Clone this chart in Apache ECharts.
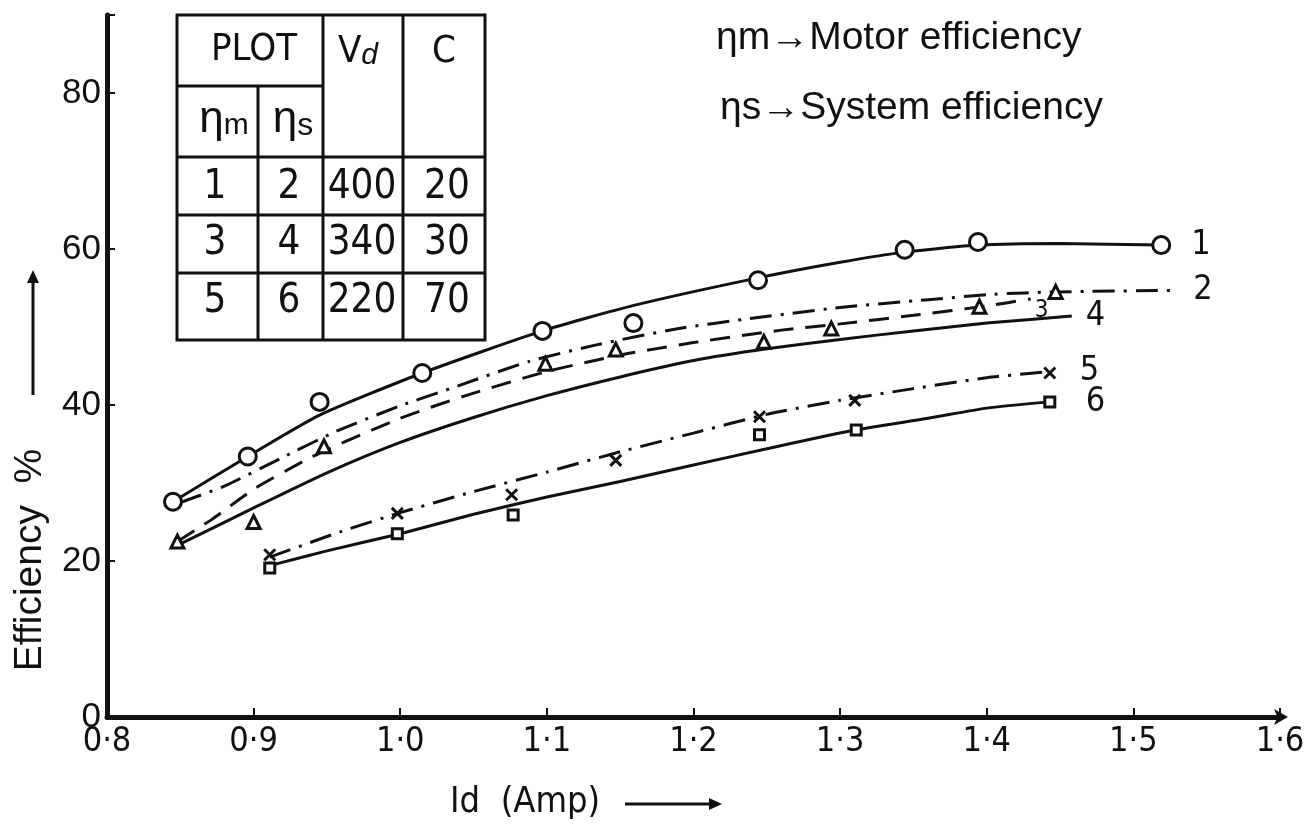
<!DOCTYPE html>
<html>
<head>
<meta charset="utf-8">
<script src="https://cdn.jsdelivr.net/npm/echarts@6/dist/echarts.min.js"></script>
<style>
  html, body { margin: 0; padding: 0; background: #fff; }
  #chart { width: 1309px; height: 831px; }
</style>
</head>
<body>
<div id="chart"></div>
<script>
// Axis ticks
const xTicks = [0.8, 0.9, 1.0, 1.1, 1.2, 1.3, 1.4, 1.5, 1.6];
const yTicks = [0, 20, 40, 60, 80];

// Fitted curves: [Id (A), efficiency %]
const curve1 = [[0.845, 27.6], [0.896, 33.4], [0.945, 38.7], [1.015, 44.1], [1.097, 49.5], [1.16, 52.8], [1.244, 56.3], [1.3, 58.3], [1.344, 59.6], [1.394, 60.5], [1.45, 60.7], [1.519, 60.5]];
const curve2 = [[0.85, 27.5], [0.88, 29.6], [0.92, 33.3], [0.956, 36.6], [1.0, 39.9], [1.034, 42.1], [1.088, 45.6], [1.136, 47.8], [1.19, 49.8], [1.235, 51.0], [1.3, 52.5], [1.36, 53.5], [1.405, 54.2], [1.447, 54.5], [1.53, 54.7]];
const curve3 = [[0.848, 22.5], [0.872, 25.4], [0.9, 29.2], [0.935, 32.9], [0.948, 34.1], [1.0, 38.3], [1.043, 41.1], [1.1, 44.3], [1.15, 46.4], [1.2, 48.0], [1.26, 49.6], [1.3, 50.4], [1.35, 51.5], [1.4, 52.7], [1.43, 53.6]];
const curve4 = [[0.848, 22.0], [0.9, 26.8], [0.95, 31.3], [1.0, 35.2], [1.05, 38.4], [1.1, 41.2], [1.15, 43.6], [1.2, 45.7], [1.25, 47.2], [1.3, 48.4], [1.35, 49.5], [1.4, 50.5], [1.458, 51.4]];
const curve5 = [[0.911, 20.5], [0.96, 23.8], [1.0, 26.2], [1.05, 28.9], [1.1, 31.4], [1.15, 34.0], [1.2, 36.4], [1.25, 38.8], [1.3, 40.6], [1.35, 42.1], [1.4, 43.5], [1.443, 44.3]];
const curve6 = [[0.913, 19.5], [0.95, 21.3], [1.0, 23.5], [1.05, 26.0], [1.1, 28.2], [1.15, 30.2], [1.2, 32.3], [1.25, 34.4], [1.31, 36.8], [1.36, 38.3], [1.4, 39.6], [1.443, 40.4]];

// Measured points
const circlePts = [[0.845, 27.6], [0.896, 33.4], [0.945, 40.4], [1.015, 44.1], [1.097, 49.5], [1.159, 50.5], [1.244, 56.0], [1.344, 59.9], [1.394, 60.9], [1.519, 60.5]];
const trianglePts = [[0.848, 22.5], [0.9, 25.0], [0.948, 34.7], [1.099, 45.3], [1.147, 47.1], [1.248, 48.1], [1.294, 49.8], [1.395, 52.6], [1.447, 54.5]];
const crossPts = [[0.911, 20.8], [0.998, 26.1], [1.076, 28.5], [1.147, 32.9], [1.245, 38.5], [1.31, 40.6], [1.443, 44.1]];
const squarePts = [[0.911, 19.1], [0.998, 23.5], [1.077, 25.9], [1.245, 36.2], [1.311, 36.8], [1.443, 40.4]];

// Legend table rows: [eta_m plot, eta_s plot, Vd, C]
const tableRows = [['1', '2', '400', '20'], ['3', '4', '340', '30'], ['5', '6', '220', '70']];

const INK = '#111';
const NARROW = '"Liberation Sans Narrow", "DejaVu Sans Condensed", sans-serif';
const SANS = '"Liberation Sans", "DejaVu Sans", sans-serif';

const DASH_DOT = [22, 9, 3, 9];
const DASHED = [20, 12];

function curveSeries(data, label, type, labelOpts) {
  return {
    type: 'line', data: data, smooth: 0.2, showSymbol: false, silent: true,
    lineStyle: { color: INK, width: 3, type: type },
    endLabel: Object.assign({
      show: true, formatter: label, color: INK, fontFamily: NARROW, fontSize: 34, distance: 22
    }, labelOpts || {})
  };
}
function markerSeries(data, symbol, size) {
  return {
    type: 'scatter', data: data, symbol: symbol, symbolSize: size, silent: true, z: 5,
    itemStyle: { color: '#fff', borderColor: INK, borderWidth: 3, opacity: 1 }
  };
}

// Table graphics
const T = { x0: 177, x1: 485, y0: 15, y1: 340, cA: 258, cB: 323, cC: 403, rH: 86, r1: 157, r2: 215, r3: 273 };
function hline(x0, x1, y) { return { type: 'line', shape: { x1: x0, y1: y, x2: x1, y2: y }, style: { stroke: INK, lineWidth: 3 } }; }
function vline(x, y0, y1) { return { type: 'line', shape: { x1: x, y1: y0, x2: x, y2: y1 }, style: { stroke: INK, lineWidth: 3 } }; }
function cell(text, x, y, size) {
  return { type: 'text', x: x, y: y, style: { text: text, fill: INK, font: size + 'px ' + NARROW, textAlign: 'center', textVerticalAlign: 'middle' } };
}
const tableGraphics = [
  { type: 'rect', shape: { x: T.x0, y: T.y0, width: T.x1 - T.x0, height: T.y1 - T.y0 }, style: { fill: 'none', stroke: INK, lineWidth: 3 } },
  hline(T.x0, T.cB, T.rH), hline(T.x0, T.x1, T.r1), hline(T.x0, T.x1, T.r2), hline(T.x0, T.x1, T.r3),
  vline(T.cA, T.rH, T.y1), vline(T.cB, T.y0, T.y1), vline(T.cC, T.y0, T.y1),
  cell('PLOT', 254, 50, 38),
  { type: 'text', x: 358, y: 52, style: { text: 'V{s|d}', fill: INK, font: '38px ' + NARROW, textAlign: 'center', textVerticalAlign: 'middle',
    rich: { s: { fontSize: 30, fontFamily: SANS, fontStyle: 'italic', padding: [8, 0, 0, 0] } } } },
  cell('C', 444, 52, 38),
  { type: 'text', x: 224, y: 120, style: { text: 'η{s|m}', fill: INK, font: '44px ' + SANS, textAlign: 'center', textVerticalAlign: 'middle',
    rich: { s: { fontSize: 30, fontFamily: SANS, padding: [12, 0, 0, 0] } } } },
  { type: 'text', x: 293, y: 120, style: { text: 'η{s|s}', fill: INK, font: '44px ' + SANS, textAlign: 'center', textVerticalAlign: 'middle',
    rich: { s: { fontSize: 32, fontFamily: SANS, padding: [12, 0, 0, 0] } } } }
];
const colX = [215, 289, 362, 447];
const rowY = [188, 244, 302];
tableRows.forEach(function (row, i) {
  row.forEach(function (t, j) { tableGraphics.push(cell(t, colX[j], rowY[i], 40)); });
});

// Arrow helper for axis captions
function arrow(x1, y1, x2, y2) {
  const ang = Math.atan2(y2 - y1, x2 - x1);
  const L = 13, W = 6;
  const bx = x2 - L * Math.cos(ang), by = y2 - L * Math.sin(ang);
  const px = -Math.sin(ang) * W, py = Math.cos(ang) * W;
  return [
    { type: 'line', shape: { x1: x1, y1: y1, x2: bx, y2: by }, style: { stroke: INK, lineWidth: 3 } },
    { type: 'polygon', shape: { points: [[x2, y2], [bx + px, by + py], [bx - px, by - py]] }, style: { fill: INK } }
  ];
}

const graphics = tableGraphics.concat([
  { type: 'text', x: 716, y: 38, style: { text: 'ηm→Motor efficiency', fill: INK, font: '39px ' + SANS, textVerticalAlign: 'middle' } },
  { type: 'text', x: 720, y: 108, style: { text: 'ηs→System efficiency', fill: INK, font: '39px ' + SANS, textVerticalAlign: 'middle' } },
  { type: 'text', x: 30, y: 560, rotation: Math.PI / 2, style: { text: 'Efficiency  %', fill: INK, font: '39px ' + SANS, textAlign: 'center', textVerticalAlign: 'middle' } },
  { type: 'text', x: 450, y: 803, style: { text: 'Id  (Amp)', fill: INK, font: '36px ' + NARROW, textVerticalAlign: 'middle' } }
]).concat(arrow(33, 395, 33, 270)).concat(arrow(625, 804, 722, 804));

const chart = echarts.init(document.getElementById('chart'), null, { renderer: 'canvas' });
chart.setOption({
  backgroundColor: '#fff',
  animation: false,
  grid: { left: 107, right: 29, top: 15, bottom: 114 },
  xAxis: {
    type: 'value', min: 0.8, max: 1.6, interval: 0.1,
    axisLine: { lineStyle: { color: INK, width: 5 }, symbol: ['none', 'arrow'], symbolSize: [12, 14], symbolOffset: [0, 8] },
    axisTick: { inside: true, length: 9, lineStyle: { color: INK, width: 2 } },
    axisLabel: { color: INK, fontFamily: NARROW, fontSize: 34, margin: 8,
      formatter: function (v) { const r = Math.round(v * 10) / 10; return xTicks.indexOf(r) >= 0 ? r.toFixed(1).replace('.', '·') : ''; } },
    splitLine: { show: false }
  },
  yAxis: {
    type: 'value', min: 0, max: 90, interval: 20,
    axisLine: { lineStyle: { color: INK, width: 5 } },
    axisTick: { inside: true, length: 8, lineStyle: { color: INK, width: 2 } },
    axisLabel: { color: INK, fontFamily: SANS, fontSize: 35, margin: 6,
      formatter: function (v) { return yTicks.indexOf(v) >= 0 ? String(v) : ''; } },
    splitLine: { show: false }
  },
  series: [
    curveSeries(curve1, '1', 'solid', { distance: 30 }),
    curveSeries(curve2, '2', DASH_DOT, { distance: 16 }),
    curveSeries(curve3, '3', DASHED, { fontSize: 24, distance: 4, offset: [0, 12] }),
    curveSeries(curve4, '4', 'solid', { distance: 14 }),
    curveSeries(curve5, '5', DASH_DOT, { distance: 30 }),
    curveSeries(curve6, '6', 'solid', { distance: 36 }),
    markerSeries(circlePts, 'circle', 17),
    markerSeries(trianglePts, 'triangle', 13),
    markerSeries(crossPts, 'path://M0,0 L10,12 M10,0 L0,12', 11),
    markerSeries(squarePts, 'rect', 10)
  ],
  graphic: graphics
});
</script>
</body>
</html>
